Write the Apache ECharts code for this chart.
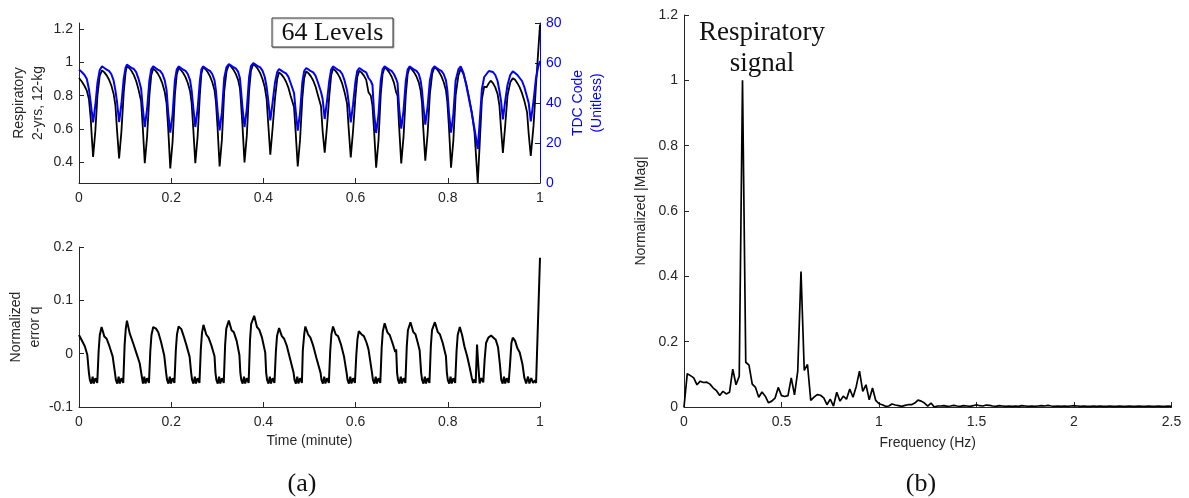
<!DOCTYPE html>
<html><head><meta charset="utf-8">
<script src="https://cdn.jsdelivr.net/npm/echarts@6/dist/echarts.min.js"></script>
<style>html,body{margin:0;padding:0;background:#fff}#c{width:1189px;height:498px}</style>
</head><body><div id="c"></div>
<script>
// ---- Top-left panel: respiratory signal (left axis) and TDC code (right axis)
const timeTop = [
  0, .006, .012, .017, .0215, .0255, .028, .0306, .0355, .040, .045, .050,
  .055, .060, .065, .070, .075, .079, .0825, .087, .092, .097, .101, .104,
  .109, .114, .119, .124, .129, .1347, .1382, .1427, .1477, .1527, .1567, .161,
  .166, .171, .176, .181, .186, .190, .1935, .198, .203, .208, .212, .216,
  .221, .226, .231, .236, .241, .2443, .2478, .2523, .2573, .2623, .2655, .269,
  .274, .279, .284, .289, .294, .297, .3005, .305, .310, .315, .320, .325,
  .330, .335, .340, .345, .349, .351, .3545, .359, .364, .369, .373, .378,
  .383, .388, .393, .398, .403, .407, .4105, .415, .420, .425, .430, .434,
  .439, .444, .449, .454, .459, .4665, .470, .4745, .4795, .4845, .4885, .493,
  .498, .503, .508, .513, .518, .525, .5285, .533, .538, .543, .547, .551,
  .556, .561, .566, .571, .576, .5815, .585, .5895, .5945, .5995, .6035, .608,
  .613, .618, .623, .628, .633, .6366, .6401, .6446, .6496, .6546, .6586, .663,
  .668, .673, .678, .683, .688, .691, .6945, .699, .704, .709, .713, .717,
  .722, .727, .732, .737, .741, .744, .7467, .7512, .7562, .7612, .7662, .771,
  .776, .781, .786, .791, .796, .799, .8025, .807, .812, .817, .823, .828,
  .834, .840, .846, .852, .858, .865, .869, .874, .879, .884, .889, .893,
  .898, .903, .908, .912, .9155, .9195, .9245, .9295, .9355, .941,
  .946, .951, .956, .961, .966, .972, .9755, .980, .986, .991, .996, 1.0
];
const respiratory = [
  .906, .885, .858, .83, .78, .66, .54, .432, .59, .80, .92, .952,
  .940, .922, .897, .862, .812, .742, .592, .424, .584, .818, .938, .978,
  .966, .948, .923, .888, .838, .768, .618, .395, .555, .802, .922, .962,
  .950, .932, .907, .872, .822, .752, .602, .364, .524, .806, .926, .966,
  .954, .936, .911, .876, .826, .756, .606, .395, .555, .812, .932, .972,
  .960, .942, .917, .882, .832, .762, .612, .376, .536, .826, .946, .986,
  .974, .956, .931, .896, .846, .776, .626, .400, .560, .830, .950, .990,
  .978, .960, .935, .900, .850, .780, .630, .446, .606, .780, .900, .940,
  .928, .910, .885, .850, .800, .730, .580, .376, .536, .786, .906, .946,
  .934, .916, .891, .856, .806, .736, .586, .458, .618, .802, .922, .962,
  .950, .932, .907, .872, .822, .752, .602, .430, .590, .790, .910, .950,
  .938, .920, .895, .820, .800, .740, .590, .368, .528, .810, .930, .970,
  .958, .940, .915, .880, .820, .800, .610, .394, .554, .810, .930, .970,
  .958, .940, .915, .880, .830, .760, .610, .410, .570, .812, .932, .972,
  .960, .942, .917, .882, .832, .762, .612, .368, .528, .802, .922, .962,
  .930, .870, .790, .700, .580, .277, .500, .780, .855, .850, .875, .890,
  .875, .850, .810, .740, .600, .456, .620, .800, .880, .905,
  .895, .875, .850, .815, .770, .700, .570, .438, .620, .850, 1.060, 1.226
];
const tdcCode = [
  56.7, 55.5, 54, 52, 47, 40, 35, 30.3, 39, 50, 56.5, 58.3,
  57.5, 56.7, 56.1, 54.5, 51.3, 46.3, 40.5, 30.5, 39.5, 52.2, 57.7, 59.2,
  58.4, 57.6, 57, 55.4, 52.2, 47.2, 38, 28, 37, 51.3, 56.8, 58.3,
  57.5, 56.7, 56.1, 54.5, 51.3, 46.3, 35.2, 25.2, 34.2, 51.3, 56.8, 58.3,
  57.5, 56.7, 56.1, 54.5, 51.3, 46.3, 38, 28, 37, 51.3, 56.8, 58.3,
  57.5, 56.7, 56.1, 54.5, 51.3, 46.3, 36.3, 26.3, 35.3, 52.5, 58, 59.5,
  58.7, 57.9, 57.3, 55.7, 52.5, 47.5, 38, 28, 37, 53, 58.5, 60,
  59.2, 58.4, 57.8, 56.2, 53, 48, 41.3, 31.3, 40.3, 50, 55.5, 57,
  56.2, 55.4, 54.8, 53.2, 50, 45, 36.2, 26.2, 35.2, 50.5, 56, 57.5,
  56.7, 55.9, 55.3, 53.7, 50.5, 45.5, 42, 32, 41, 51.3, 56.8, 58.3,
  57.5, 56.7, 56.1, 54.5, 51.3, 46.3, 40.3, 30.3, 39.3, 50.5, 56, 57.5,
  56.7, 55.9, 55.3, 52.5, 51, 49, 35, 25, 34, 51.3, 56.8, 58.3,
  57.5, 56.7, 56.1, 54.5, 52, 50, 37.2, 27.2, 36.2, 51.3, 56.8, 58.3,
  57.5, 56.7, 56.1, 54.5, 51.3, 46.3, 39.2, 29.2, 38.2, 51.3, 56.8, 58.3,
  57.5, 56.7, 56.1, 54.5, 51.3, 46.3, 35.2, 25.2, 34.2, 51.3, 56.8, 58.3,
  55, 49, 42, 35, 27, 17, 30, 47, 53, 54.5, 56, 56.3,
  55.5, 54, 51, 46, 41, 31.8, 41, 49, 54, 55.8,
  55, 54, 52.5, 51, 48, 43, 40, 30.8, 41, 52, 58, 61
];
const respTicks = [0.4, 0.6, 0.8, 1.0, 1.2];

// ---- Bottom-left panel: normalized error q
const timeErr = [
  0, .0054, .0126, .018, .0215, .0236, .0266, .0296, .0321, .0356, .0396, .0426, .0451,
  .049, .055, .060, .066, .073, .078, .080, .083, .086, .0885, .092, .096, .099, .1015,
  .104, .110, .117, .1245, .1317, .1357, .1387, .1417, .1442, .1477, .1517, .1547, .1572,
  .161, .167, .172, .178, .185, .189, .191, .194, .197, .1995, .203, .207, .210, .2125,
  .216, .222, .227, .233, .240, .2433, .2453, .2483, .2513, .2538, .2573, .2613, .2643, .2668,
  .270, .276, .281, .287, .294, .296, .298, .301, .304, .3065, .310, .314, .317, .3195,
  .325, .331, .336, .342, .348, .350, .352, .355, .358, .3605, .364, .368, .371, .3735,
  .380, .386, .391, .397, .404, .406, .408, .411, .414, .4165, .420, .424, .427, .4295,
  .434, .440, .445, .451, .458, .4655, .4675, .4705, .4735, .476, .4795, .4835, .4855, .4885,
  .491, .497, .502, .508, .515, .524, .526, .529, .532, .5345, .538, .542, .545, .5475,
  .551, .557, .562, .568, .575, .5805, .5825, .5855, .5885, .591, .5945, .5985, .6015, .604,
  .607, .613, .618, .624, .628, .632, .6356, .6376, .6406, .6436, .6461, .6496, .6536, .6566, .6591,
  .663, .669, .674, .680, .686, .688, .690, .692, .695, .698, .7005, .704, .708, .711, .7135,
  .719, .725, .730, .735, .739, .7422, .7442, .7472, .7502, .7527, .7562, .7602, .7632, .7657,
  .772, .778, .783, .789, .796, .798, .800, .803, .806, .8085, .812, .816, .819, .8215,
  .826, .831, .836, .842, .847, .852, .855, .858, .8605, .8634, .866, .869, .873, .877, .880, .883, .888,
  .894, .899, .904, .909, .913, .916, .919, .922, .9245, .928, .932, .935, .938,
  .941, .946, .951, .956, .962, .966, .970, .974, .977, .981, .985, .989, .9915, 1.0
];
const errorQ = [
  .035, .026, .014, -.002, -.036, -.049, -.056, -.043, -.056, -.046, -.055, .005, .035,
  .050, .032, .028, .014, -.005, -.036, -.049, -.056, -.043, -.056, -.046, -.055, .017, .047,
  .062, .038, .021, .001, -.018, -.040, -.056, -.043, -.056, -.046, -.055, .005, .035,
  .050, .047, .040, .022, -.004, -.036, -.049, -.056, -.043, -.056, -.046, -.055, .006, .036,
  .051, .046, .033, .016, -.006, -.036, -.049, -.056, -.043, -.056, -.046, -.055, .009, .039,
  .054, .036, .030, .016, -.005, -.036, -.049, -.056, -.043, -.056, -.046, -.055, .017, .047,
  .062, .044, .040, .024, -.003, -.036, -.049, -.056, -.043, -.056, -.046, -.055, .026, .056,
  .071, .050, .045, .030, .002, -.036, -.049, -.056, -.043, -.056, -.046, -.055, .003, .033,
  .048, .033, .028, .014, -.010, -.036, -.049, -.056, -.043, -.056, -.046, -.055, .006, .036,
  .051, .036, .030, .015, -.008, -.036, -.049, -.056, -.043, -.056, -.046, -.055, .006, .036,
  .051, .036, .033, .018, -.006, -.036, -.049, -.056, -.043, -.056, -.046, -.055, -.003, .027,
  .042, .036, .033, .020, .008, .010, -.036, -.049, -.056, -.043, -.056, -.046, -.055, .012, .042,
  .057, .040, .035, .020, .003, .008, -.036, -.049, -.056, -.043, -.056, -.046, -.055, .014, .044,
  .059, .041, .036, .020, .006, -.036, -.049, -.056, -.043, -.056, -.046, -.055, .014, .044,
  .059, .041, .036, .020, -.005, -.036, -.049, -.056, -.043, -.056, -.046, -.055, .005, .035,
  .050, .035, .014, -.005, -.024, -.045, -.055, -.048, -.055, .017, -.020, -.056, -.046, -.054, -.010, .020, .030,
  .034, .030, .026, .012, -.020, -.049, -.056, -.043, -.056, -.046, -.055, -.020, .020,
  .030, .024, .010, .002, -.020, -.045, -.056, -.043, -.056, -.046, -.055, -.050, -.055, .180
];

// ---- Right panel: normalized FFT magnitude (bins of 1/60 Hz)
const spectrumFreq = [
  0, .0167, .0333, .05, .0667, .0833, .1, .1167, .1333, .15,
  .1667, .1833, .2, .2167, .2333, .25, .2667, .2833, .3, .3167,
  .3333, .35, .3667, .3833, .4, .4167, .4333, .45, .4667, .4833,
  .5, .5167, .5333, .55, .5667, .5833, .6, .6167, .6333, .65,
  .6667, .6833, .7, .7167, .7333, .75, .7667, .7833, .8, .8167,
  .8333, .85, .8667, .8833, .9, .9167, .9333, .95, .9667, .9833,
  1, 1.0167, 1.0333, 1.05, 1.0667, 1.0833, 1.1, 1.1167, 1.1333, 1.15,
  1.1667, 1.1833, 1.2, 1.2167, 1.2333, 1.25, 1.2667, 1.2833, 1.3, 1.3167,
  1.3333, 1.35, 1.3667, 1.3833, 1.4, 1.4167, 1.4333, 1.45, 1.4667, 1.4833,
  1.5, 1.5167, 1.5333, 1.55, 1.5667, 1.5833, 1.6, 1.6167, 1.6333, 1.65,
  1.6667, 1.6833, 1.7, 1.7167, 1.7333, 1.75, 1.7667, 1.7833, 1.8, 1.8167,
  1.8333, 1.85, 1.8667, 1.8833, 1.9, 1.9167, 1.9333, 1.95, 1.9667, 1.9833,
  2, 2.0167, 2.0333, 2.05, 2.0667, 2.0833, 2.1, 2.1167, 2.1333, 2.15,
  2.1667, 2.1833, 2.2, 2.2167, 2.2333, 2.25, 2.2667, 2.2833, 2.3, 2.3167,
  2.3333, 2.35, 2.3667, 2.3833, 2.4, 2.4167, 2.4333, 2.45, 2.4667, 2.4833,
  2.5
];
const spectrumMag = [
  0, .102, .096, .089, .068, .079, .075, .076, .070, .058,
  .050, .035, .048, .040, .045, .116, .068, .094, 1.0, .137,
  .128, .070, .060, .030, .046, .033, .013, .018, .027, .060,
  .035, .032, .035, .089, .037, .110, .415, .112, .130, .020,
  .030, .038, .036, .028, .007, .024, .003, .045, .018, .033,
  .024, .055, .030, .063, .110, .048, .068, .022, .058, .020,
  .010, .007, .002, .003, .009, .006, .004, .002, .005, .007,
  .007, .012, .021, .018, .012, .003, .012, .000, .003, .003,
  .004, .002, .003, .005, .003, .002, .004, .003, .002, .004,
  .007, .004, .003, .006, .005, .003, .002, .004, .003, .002,
  .003, .002, .003, .002, .004, .003, .002, .003, .002, .003,
  .004, .003, .005, .003, .002, .003, .002, .003, .002, .003,
  .004, .003, .002, .003, .002, .002, .003, .002, .003, .002,
  .002, .003, .002, .002, .003, .002, .002, .003, .002, .002,
  .003, .002, .002, .003, .002, .002, .003, .002, .002, .003,
  .002
];

function zip(a, b) { const n = Math.min(a.length, b.length); const r = []; for (let i = 0; i < n; i++) r.push([a[i], b[i]]); return r; }

const AX = '#262626';
const FONT = '"Liberation Sans", Arial, sans-serif';
const SERIF = '"Liberation Serif", "Times New Roman", serif';
const lbl = { fontSize: 14, color: AX, fontFamily: FONT };
const nameStyle = { fontSize: 14, color: AX, fontFamily: FONT, lineHeight: 19 };
function xAx(grid, min, max, interval, name, gap) {
  return {
    type: 'value', gridIndex: grid, min: min, max: max, interval: interval,
    axisLine: { show: true, onZero: false, lineStyle: { color: AX, width: 1 } },
    axisTick: { show: true, inside: true, length: 5, lineStyle: { color: AX } },
    axisLabel: Object.assign({ margin: 8 }, lbl),
    splitLine: { show: false },
    name: name || '', nameLocation: 'middle', nameGap: gap || 0, nameTextStyle: nameStyle
  };
}

const chart = echarts.init(document.getElementById('c'), null, { renderer: 'canvas' });
chart.setOption({
  animation: false,
  backgroundColor: '#fff',
  grid: [
    { left: 79, top: 23, width: 461, height: 160, outerBoundsMode: 'none' },
    { left: 79, top: 247, width: 461, height: 160, outerBoundsMode: 'none' },
    { left: 684, top: 15, width: 487.5, height: 392, outerBoundsMode: 'none' }
  ],
  xAxis: [
    xAx(0, 0, 1, 0.2),
    xAx(1, 0, 1, 0.2, 'Time (minute)', 25),
    xAx(2, 0, 2.5, 0.5, 'Frequency (Hz)', 25)
  ],
  yAxis: [
    {
      type: 'value', gridIndex: 0, position: 'left', min: 0.276, max: 1.236,
      axisLine: { show: true, onZero: false, lineStyle: { color: AX } },
      axisTick: { show: true, inside: true, length: 5, customValues: respTicks, lineStyle: { color: AX } },
      axisLabel: Object.assign({ margin: 6, customValues: respTicks }, lbl),
      splitLine: { show: false },
      name: 'Respiratory\n2-yrs, 12-kg', nameLocation: 'middle', nameRotate: 90, nameGap: 31, nameTextStyle: nameStyle
    },
    {
      type: 'value', gridIndex: 0, position: 'right', min: 0, max: 80, interval: 20,
      axisLine: { show: true, onZero: false, lineStyle: { color: '#0000ff' } },
      axisTick: { show: true, inside: true, length: 5, lineStyle: { color: '#0000ff' } },
      axisLabel: Object.assign({}, lbl, { margin: 6, color: '#0000ff' }),
      splitLine: { show: false },
      name: 'TDC Code\n(Unitless)', nameLocation: 'middle', nameRotate: 90, nameGap: 29,
      nameTextStyle: Object.assign({}, nameStyle, { color: '#0000ff' })
    },
    {
      type: 'value', gridIndex: 1, min: -0.1, max: 0.2, interval: 0.1,
      axisLine: { show: true, onZero: false, lineStyle: { color: AX } },
      axisTick: { show: true, inside: true, length: 5, lineStyle: { color: AX } },
      axisLabel: Object.assign({ margin: 6 }, lbl),
      splitLine: { show: false },
      name: 'Normalized\nerror q', nameLocation: 'middle', nameRotate: 90, nameGap: 33, nameTextStyle: nameStyle
    },
    {
      type: 'value', gridIndex: 2, min: 0, max: 1.2, interval: 0.2,
      axisLine: { show: true, onZero: false, lineStyle: { color: AX } },
      axisTick: { show: true, inside: true, length: 5, lineStyle: { color: AX } },
      axisLabel: Object.assign({ margin: 6 }, lbl),
      splitLine: { show: false },
      name: 'Normalized |Mag|', nameLocation: 'middle', nameRotate: 90, nameGap: 33, nameTextStyle: nameStyle
    }
  ],
  series: [
    { type: 'line', xAxisIndex: 0, yAxisIndex: 0, data: zip(timeTop, respiratory), symbol: 'none',
      lineStyle: { color: '#000', width: 1.8 }, z: 2 },
    { type: 'line', xAxisIndex: 0, yAxisIndex: 1, data: zip(timeTop, tdcCode), symbol: 'none',
      lineStyle: { color: '#0000ff', width: 2 }, z: 3 },
    { type: 'line', xAxisIndex: 1, yAxisIndex: 2, data: zip(timeErr, errorQ), symbol: 'none',
      lineStyle: { color: '#000', width: 2 } },
    { type: 'line', xAxisIndex: 2, yAxisIndex: 3, data: zip(spectrumFreq, spectrumMag), symbol: 'none',
      lineStyle: { color: '#000', width: 1.7 } }
  ],
  graphic: [
    { type: 'rect', shape: { x: 272, y: 18, width: 121, height: 29 }, z: 100,
      style: { fill: '#fff', stroke: '#333', lineWidth: 1, shadowColor: 'rgba(0,0,0,0.25)', shadowOffsetX: 1, shadowOffsetY: 1, shadowBlur: 1 } },
    { type: 'text', x: 332.5, y: 33, z: 101,
      style: { text: '64 Levels', font: '26px ' + SERIF, fill: '#111', textAlign: 'center', textVerticalAlign: 'middle' } },
    { type: 'text', x: 762, y: 17, z: 101,
      style: { text: 'Respiratory\nsignal', font: '27px ' + SERIF, fill: '#111', textAlign: 'center', textVerticalAlign: 'top', lineHeight: 31 } },
    { type: 'text', x: 302, y: 484, z: 101,
      style: { text: '(a)', font: '26px ' + SERIF, fill: '#111', textAlign: 'center', textVerticalAlign: 'middle' } },
    { type: 'text', x: 921, y: 484, z: 101,
      style: { text: '(b)', font: '26px ' + SERIF, fill: '#111', textAlign: 'center', textVerticalAlign: 'middle' } }
  ]
});
</script>
</body></html>
